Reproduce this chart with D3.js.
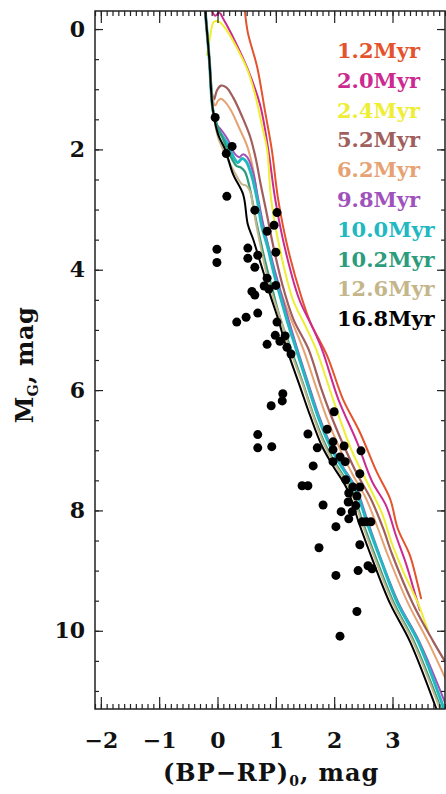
<!DOCTYPE html>
<html><head><meta charset="utf-8">
<script src="https://cdn.jsdelivr.net/npm/d3@7"></script>
<style>body{margin:0;background:#fff}svg{display:block}</style>
</head><body>
<script>
// ---- data ----
const xTicks = [-2, -1, 0, 1, 2, 3];
const yTicks = [0, 2, 4, 6, 8, 10];
const ages = ["1.2Myr","2.0Myr","2.4Myr","5.2Myr","6.2Myr","9.8Myr","10.0Myr","10.2Myr","12.6Myr","16.8Myr"];
const ageColors = ["#e4532c","#cc2a90","#eeee34","#a05e5c","#e6a272","#a052bc","#22b8c2","#2c9c7c","#c4b68a","#000000"];

const iso1p2 = [[0.47,-0.30],[0.52,0.06],[0.68,0.63],[0.81,1.34],[0.93,2.00],[1.04,2.83],[1.21,3.66],[1.45,4.49],[1.59,4.87],[1.88,5.43],[2.15,6.15],[2.44,6.70],[2.73,7.36],[2.96,7.81],[3.09,8.30],[3.30,8.75],[3.42,9.18],[3.49,9.46]];
const iso2p0 = [[-0.09,-0.30],[-0.04,-0.22],[0.03,-0.27],[0.11,-0.15],[0.30,0.20],[0.52,0.67],[0.73,1.26],[0.87,2.00],[0.99,2.83],[1.16,3.66],[1.40,4.49],[1.62,4.94],[1.79,5.32],[2.07,6.15],[2.39,6.86],[2.65,7.52],[2.89,7.92],[3.06,8.42],[3.23,8.88],[3.40,9.43],[3.47,9.66]];
const iso2p4 = [[-0.18,0.43],[-0.13,0.14],[-0.06,-0.12],[0.03,-0.12],[0.15,0.01],[0.32,0.29],[0.51,0.67],[0.64,1.07],[0.76,1.59],[0.85,2.00],[0.92,2.83],[1.07,3.66],[1.29,4.49],[1.51,4.94],[1.69,5.32],[1.98,6.15],[2.29,6.98],[2.62,7.64],[2.82,8.05],[2.99,8.55],[3.20,9.05],[3.44,9.55],[3.61,10.01]];
const iso5p2 = [[-0.21,-0.30],[-0.14,0.51],[-0.09,1.09],[-0.06,1.17],[-0.01,1.02],[0.06,0.94],[0.15,0.97],[0.27,1.14],[0.42,1.45],[0.56,1.79],[0.66,2.17],[0.74,2.58],[0.83,3.00],[0.95,3.58],[1.11,4.24],[1.30,4.82],[1.56,5.32],[1.78,5.98],[1.97,6.48],[2.19,6.98],[2.39,7.39],[2.63,7.81],[2.84,8.30],[2.99,8.72],[3.35,9.55],[3.70,10.18],[3.92,10.54]];
const iso6p2 = [[-0.21,-0.30],[-0.14,0.51],[-0.08,1.17],[-0.04,1.27],[0.01,1.19],[0.06,1.16],[0.13,1.21],[0.23,1.35],[0.37,1.64],[0.51,1.95],[0.61,2.33],[0.69,2.83],[0.80,3.33],[0.92,3.83],[1.07,4.32],[1.26,4.82],[1.47,5.32],[1.70,5.98],[1.88,6.48],[2.10,6.98],[2.31,7.39],[2.55,7.81],[2.75,8.30],[2.91,8.72],[3.27,9.55],[3.61,10.18],[3.92,10.82]];
const iso9p8 = [[-0.21,-0.30],[-0.14,0.51],[-0.08,1.34],[-0.01,1.59],[0.06,1.67],[0.18,1.84],[0.28,2.05],[0.37,2.13],[0.44,2.08],[0.51,2.13],[0.61,2.38],[0.69,2.78],[0.78,3.23],[0.88,3.63],[0.99,4.04],[1.11,4.46],[1.23,4.87],[1.37,5.32],[1.57,5.93],[1.74,6.43],[1.95,6.93],[2.14,7.26],[2.38,7.64],[2.60,8.25],[2.80,8.80],[3.11,9.55],[3.46,10.18],[3.92,11.24]];
const iso10p0 = [[-0.21,-0.30],[-0.14,0.51],[-0.08,1.34],[-0.01,1.62],[0.04,1.72],[0.16,1.89],[0.27,2.12],[0.35,2.22],[0.42,2.15],[0.49,2.20],[0.59,2.45],[0.68,2.83],[0.76,3.28],[0.87,3.66],[0.97,4.07],[1.09,4.49],[1.21,4.90],[1.35,5.32],[1.55,5.93],[1.72,6.43],[1.93,6.93],[2.12,7.26],[2.36,7.64],[2.58,8.25],[2.79,8.80],[3.09,9.55],[3.44,10.18],[3.88,11.29]];
const iso10p2 = [[-0.21,-0.30],[-0.14,0.51],[-0.08,1.34],[-0.01,1.59],[0.08,1.79],[0.21,2.09],[0.33,2.28],[0.40,2.30],[0.47,2.37],[0.56,2.67],[0.64,3.08],[0.73,3.49],[0.83,3.91],[0.95,4.36],[1.07,4.79],[1.26,5.32],[1.48,5.93],[1.65,6.43],[1.86,6.93],[2.05,7.26],[2.29,7.64],[2.51,8.25],[2.72,8.80],[3.03,9.55],[3.37,10.18],[3.83,11.29]];
const iso12p6 = [[-0.21,-0.30],[-0.14,0.51],[-0.08,1.34],[0.01,1.80],[0.16,2.13],[0.32,2.43],[0.42,2.58],[0.49,2.60],[0.56,2.70],[0.61,2.96],[0.68,3.33],[0.75,3.66],[0.83,4.02],[0.95,4.44],[1.09,4.85],[1.24,5.32],[1.47,5.93],[1.64,6.43],[1.84,6.93],[2.03,7.26],[2.27,7.64],[2.49,8.25],[2.70,8.80],[3.01,9.55],[3.35,10.18],[3.81,11.29]];
const iso16p8 = [[-0.21,-0.30],[-0.14,0.51],[-0.08,1.34],[0.01,1.75],[0.13,2.00],[0.27,2.42],[0.44,2.75],[0.52,3.25],[0.61,3.49],[0.69,3.74],[0.78,4.02],[0.90,4.41],[1.04,4.82],[1.19,5.32],[1.41,5.93],[1.59,6.43],[1.79,6.93],[1.98,7.26],[2.22,7.64],[2.44,8.25],[2.65,8.80],[2.96,9.55],[3.30,10.18],[3.76,11.32]];

const starBPRP = [-0.04,0.25,0.15,0.16,0.64,1.02,0.97,0.85,-0.01,-0.01,0.52,0.52,0.69,1.00,0.64,0.85,0.80,0.88,1.00,0.59,0.64,0.69,0.49,0.33,1.02,0.99,0.85,1.07,1.16,1.19,1.26,1.12,1.11,0.92,0.69,0.69,0.93,2.00,1.88,1.55,1.71,1.98,1.98,2.17,2.46,2.10,2.19,1.98,1.64,2.44,2.20,1.45,1.55,2.32,2.44,2.25,2.39,2.24,1.81,2.37,2.12,2.31,2.25,2.48,2.55,2.63,2.03,2.44,1.74,2.41,2.58,2.65,2.03,2.39,2.10];
const starMG   = [1.47,1.95,2.07,2.78,3.01,3.05,3.26,3.36,3.66,3.88,3.64,3.81,3.76,3.71,3.96,4.14,4.27,4.32,4.26,4.36,4.42,4.72,4.79,4.87,4.87,5.09,5.24,5.19,5.10,5.29,5.40,6.06,6.18,6.26,6.74,6.96,6.94,6.36,6.65,6.73,6.96,6.86,6.99,6.93,7.01,7.11,7.19,7.19,7.26,7.39,7.49,7.59,7.59,7.61,7.61,7.71,7.76,7.86,7.91,7.92,8.02,8.02,8.14,8.19,8.19,8.19,8.27,8.57,8.62,9.00,8.92,8.97,9.08,9.68,10.09];

const isochrones = [iso1p2, iso2p0, iso2p4, iso5p2, iso6p2, iso9p8, iso10p0, iso10p2, iso12p6, iso16p8];
const lineWidths = [2,2,2,2.2,2,2,3,2.2,2,2];

// ---- chart ----
const W = 446, H = 794;
const FONT = "'DejaVu Serif', serif";
const svg = d3.select("body").append("svg").attr("width", W).attr("height", H);
const x = d3.scaleLinear().domain([-2.1, 3.9]).range([95, 445]);
const y = d3.scaleLinear().domain([-0.3, 11.3]).range([11, 709]);

svg.append("clipPath").attr("id","clip").append("rect")
  .attr("x",95).attr("y",11).attr("width",350).attr("height",698);

const line = d3.line().x(d => x(d[0])).y(d => y(d[1])).curve(d3.curveCatmullRom.alpha(0.5));
const gl = svg.append("g").attr("clip-path","url(#clip)");
isochrones.forEach((iso, i) => {
  gl.append("path").datum(iso).attr("d", line)
    .attr("fill","none").attr("stroke", ageColors[i]).attr("stroke-width", lineWidths[i])
    .attr("stroke-linejoin","round").attr("stroke-linecap","round");
});
gl.selectAll("circle").data(starBPRP).join("circle")
  .attr("cx", d => x(d)).attr("cy", (d,i) => y(starMG[i])).attr("r", 4.5).attr("fill","#000");

// axes
const xMinor = d3.range(-21, 40).map(i => i/10);
const yMinor = d3.range(0, 23).map(i => i/2);
function styleAxis(g){
  g.selectAll(".domain").remove();
  g.selectAll("line").attr("stroke","#222").attr("stroke-width",1.2);
}
svg.append("g").attr("transform","translate(0,709)").call(d3.axisBottom(x).tickValues(xMinor).tickSize(-5).tickFormat("")).call(styleAxis);
svg.append("g").attr("transform","translate(0,11)").call(d3.axisTop(x).tickValues(xMinor).tickSize(-5).tickFormat("")).call(styleAxis);
svg.append("g").attr("transform","translate(95,0)").call(d3.axisLeft(y).tickValues(yMinor).tickSize(-4).tickFormat("")).call(styleAxis);
svg.append("g").attr("transform","translate(445,0)").call(d3.axisRight(y).tickValues(yMinor).tickSize(-4).tickFormat("")).call(styleAxis);

const gxb = svg.append("g").attr("transform","translate(0,709)")
  .call(d3.axisBottom(x).tickValues(xTicks).tickSize(-12).tickPadding(23).tickFormat(d3.format("d"))).call(styleAxis);
svg.append("g").attr("transform","translate(0,11)")
  .call(d3.axisTop(x).tickValues(xTicks).tickSize(-12).tickFormat("")).call(styleAxis);
const gyl = svg.append("g").attr("transform","translate(95,0)")
  .call(d3.axisLeft(y).tickValues(yTicks).tickSize(-8).tickPadding(10).tickFormat(d3.format("d"))).call(styleAxis);
svg.append("g").attr("transform","translate(445,0)")
  .call(d3.axisRight(y).tickValues(yTicks).tickSize(-8).tickFormat("")).call(styleAxis);
[gxb, gyl].forEach(g => g.selectAll("text").attr("font-family", FONT).attr("font-size", 22)
  .attr("font-weight","bold").attr("fill","#111"));

// frame
svg.append("rect").attr("x",95).attr("y",11).attr("width",350).attr("height",698)
  .attr("fill","none").attr("stroke","#222").attr("stroke-width",1.5);

// legend
svg.append("g").selectAll("text").data(ages).join("text")
  .attr("x", 337).attr("y", (d,i) => 58 + i*29.8)
  .attr("font-family", FONT).attr("font-size", 21).attr("font-weight","bold")
  .attr("fill", (d,i) => ageColors[i]).text(d => d);

// axis titles
const xt = svg.append("text").attr("x", 163).attr("y", 781)
  .attr("font-family", FONT).attr("font-size", 24).attr("font-weight","bold")
  .style("letter-spacing","1px").attr("fill","#111");
xt.append("tspan").text("(BP\u2212RP)");
xt.append("tspan").attr("dy", 5).attr("font-size", 14).text("0");
xt.append("tspan").attr("dy", -5).text(", mag");

const yt = svg.append("text").attr("transform","translate(33,365) rotate(-90)").attr("text-anchor","middle")
  .attr("font-family", FONT).attr("font-size", 24).attr("font-weight","bold")
  .style("letter-spacing","0.5px").attr("fill","#111");
yt.append("tspan").text("M");
yt.append("tspan").attr("dy", 5).attr("font-size", 14).text("G");
yt.append("tspan").attr("dy", -5).text(", mag");
</script>
</body></html>
